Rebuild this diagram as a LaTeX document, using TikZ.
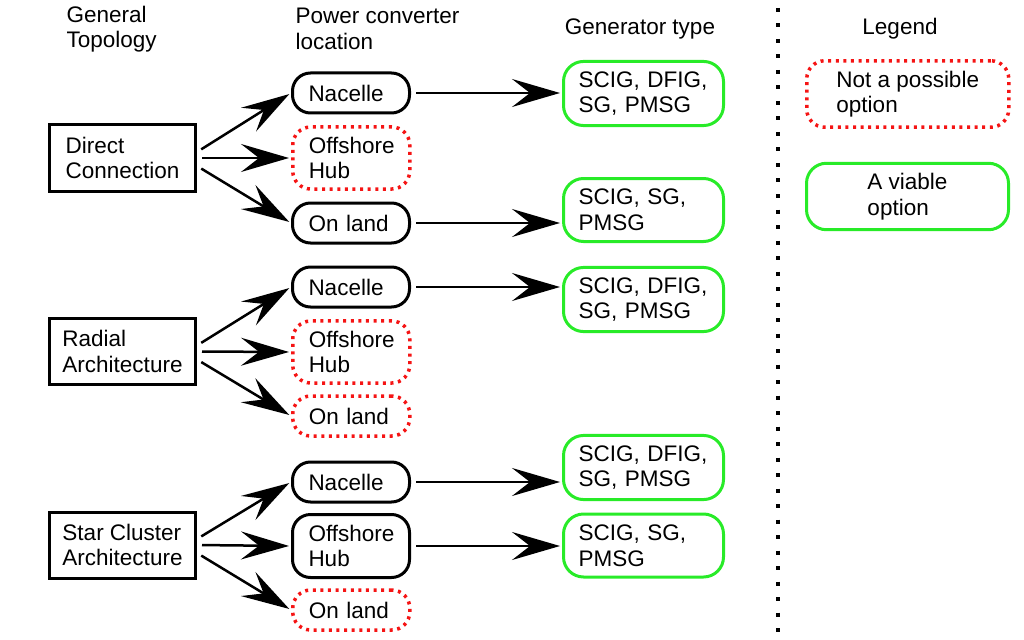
\documentclass[tikz,border=0pt]{standalone}
\usepackage{fontspec}
\setmainfont{Liberation Sans}
\usetikzlibrary{arrows.meta,positioning}

\definecolor{viable}{RGB}{40,235,40}
\definecolor{notposs}{RGB}{245,20,20}

\tikzset{
  topo/.style={draw, line width=3pt, rectangle, minimum width=146pt,
    inner ysep=10pt, minimum height=66pt, align=left, anchor=west},
  conv/.style={draw, line width=3pt, rounded corners=18pt, text width=85pt, inner xsep=16pt,
    inner ysep=10pt, minimum height=40pt, align=left, anchor=west},
  noopt/.style={conv, draw=notposs, line width=3.5pt, dash pattern=on 3pt off 4.6pt},
  gen/.style={draw=viable, line width=3pt, rounded corners=20pt, text width=130pt, inner xsep=15pt,
    inner ysep=10pt, minimum height=63pt, align=left, anchor=west},
  head/.style={align=left, anchor=west},
  arr/.style={-{Stealth[length=48pt,width=28pt,inset=18pt]}, line width=2.5pt,
    shorten >=2pt, shorten <=5pt}
}

\begin{document}
\begin{tikzpicture}[x=1pt,y=-1pt,font=\fontsize{22.5}{25.5}\selectfont]
  \useasboundingbox (0,0) rectangle (1024,639);

  \node[head] (hTopo) at (63,29) {General\\Topology}; %Column headers
  \node[head] (hConv) at (292,29) {Power converter\\location};
  \node (hGen) at (640,29) {Generator type};
  \node (hLeg) at (900,29) {Legend};

  \draw[line width=4pt, dash pattern=on 4pt off 11.5pt] (778,8) -- (778,639); %Separator

  %Direct connection
  \node[topo] (dc) at (48,158) {Direct\\Connection};
  \node[conv] (nac1) at (291,93) {Nacelle};
  \node[noopt] (hub1) at (291,158) {Offshore\\Hub};
  \node[conv] (land1) at (291,223) {On land};
  \node[gen] (gen1) at (562,93.5) {SCIG, DFIG,\\SG, PMSG};
  \node[gen] (gen2) at (562,210) {SCIG, SG,\\PMSG};

  %Radial architecture
  \node[topo] (ra) at (48,351.5) {Radial\\Architecture};
  \node[conv] (nac2) at (291,287) {Nacelle};
  \node[noopt] (hub2) at (291,352) {Offshore\\Hub};
  \node[noopt] (land2) at (291,416) {On land};
  \node[gen] (gen3) at (562,299.5) {SCIG, DFIG,\\SG, PMSG};

  %Star cluster architecture
  \node[topo] (sc) at (48,545) {Star Cluster\\Architecture};
  \node[conv] (nac3) at (291,482) {Nacelle};
  \node[conv, minimum height=63pt] (hub3) at (291,546) {Offshore\\Hub};
  \node[noopt] (land3) at (291,610) {On land};
  \node[gen] (gen4) at (562,467.5) {SCIG, DFIG,\\SG, PMSG};
  \node[gen] (gen5) at (562,545.5) {SCIG, SG,\\PMSG};

  %Legend
  \node[noopt, text width=, minimum width=202pt, minimum height=64pt, inner xsep=10pt] (legNo) at (805,94) {Not a possible\\option};
  \node[gen, text width=, minimum width=202pt, minimum height=66pt, inner xsep=10pt] (legYes) at (805,196.5) {A viable\\option};

  \draw[arr] ([yshift=6pt]dc.east) -- (nac1.west); %Topology to converter
  \draw[arr] (dc.east) -- (hub1.west);
  \draw[arr] ([yshift=-8pt]dc.east) -- (land1.west);
  \draw[arr] ([yshift=6pt]ra.east) -- (nac2.west);
  \draw[arr] (ra.east) -- (hub2.west);
  \draw[arr] ([yshift=-8pt]ra.east) -- (land2.west);
  \draw[arr] ([yshift=6pt]sc.east) -- (nac3.west);
  \draw[arr] (sc.east) -- (hub3.west);
  \draw[arr] ([yshift=-8pt]sc.east) -- (land3.west);

  \draw[arr] (nac1.east) -- (gen1.west |- nac1.east); %Converter to generator
  \draw[arr] (land1.east) -- (gen2.west |- land1.east);
  \draw[arr] (nac2.east) -- (gen3.west |- nac2.east);
  \draw[arr] (nac3.east) -- (gen4.west |- nac3.east);
  \draw[arr] (hub3.east) -- (gen5.west |- hub3.east);
\end{tikzpicture}
\end{document}
